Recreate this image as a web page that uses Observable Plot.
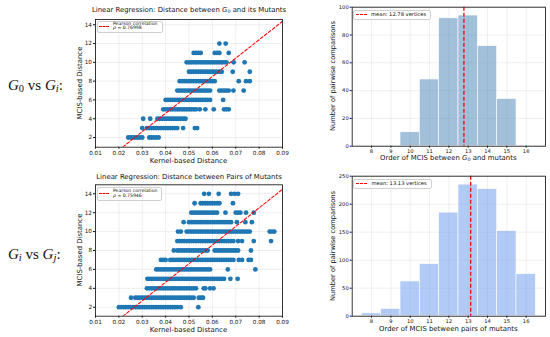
<!DOCTYPE html>
<html><head><meta charset="utf-8">
<script src="https://cdn.jsdelivr.net/npm/d3@7"></script>
<script src="https://cdn.jsdelivr.net/npm/@observablehq/plot@0.6"></script>
<style>
body{margin:0;background:#fff;}
#c{position:relative;width:550px;height:337px;overflow:hidden;font-family:"DejaVu Sans",sans-serif;color:#111;background:#fff;}
#c svg{position:absolute;overflow:visible;}
.t{position:absolute;white-space:nowrap;line-height:1;}
.t sub{font-size:70%;vertical-align:-0.25em;line-height:0;}
.row{font-family:"Liberation Serif","DejaVu Serif",serif;font-size:15px;}
.lg{position:absolute;border:0.6px solid #d0d0d0;border-radius:2px;background:rgba(255,255,255,0.85);box-sizing:border-box;}
.dash{position:absolute;height:0;border-top:1.3px dashed red;}
</style></head><body><div id="c"></div>
<script>
// ---------- data ----------
// scatter G0 vs Gi : MCIS-based distance levels and kernel-based distances at each level
const g0Levels = [2,3,4,5,6,7,8,9,10,11,12];
const g0Kernel = [
 [0.024,0.025,0.026,0.027,0.028,0.029,0.030,0.033,0.034,0.035,0.036,0.037],
 [0.030,0.032,0.033,0.034,0.035,0.036,0.037,0.038,0.039,0.040,0.041,0.042,0.043,0.044,0.045,0.0475,0.0525,0.0535],
 [0.0304,0.0334,0.0365,0.0375,0.0385,0.0395,0.0405,0.0415,0.0425,0.0435,0.0445,0.0455,0.0465,0.0475,0.0485],
 [0.039,0.040,0.041,0.042,0.043,0.044,0.045,0.046,0.047,0.048,0.049,0.050,0.051,0.052,0.053,0.0546,0.057,0.0606,0.065,0.066,0.067],
 [0.040,0.041,0.042,0.043,0.044,0.045,0.046,0.047,0.048,0.049,0.050,0.051,0.052,0.053,0.054,0.055,0.056,0.057,0.058,0.059,0.0646],
 [0.045,0.046,0.047,0.048,0.049,0.050,0.051,0.052,0.053,0.054,0.055,0.056,0.057,0.058,0.059,0.063,0.064,0.065,0.066,0.067,0.069,0.0734],
 [0.046,0.047,0.048,0.049,0.050,0.051,0.052,0.053,0.054,0.055,0.056,0.057,0.058,0.059,0.060,0.061,0.0713,0.0744,0.076],
 [0.050,0.051,0.052,0.053,0.054,0.055,0.056,0.057,0.058,0.059,0.060,0.061,0.062,0.063,0.064,0.0687,0.076],
 [0.049,0.050,0.051,0.052,0.053,0.054,0.055,0.056,0.057,0.058,0.059,0.060,0.061,0.062,0.063,0.064,0.065,0.066,0.0691,0.0738],
 [0.052,0.053,0.054,0.055,0.061,0.062,0.063,0.067],
 [0.063,0.0657]
];
// scatter Gi vs Gj
const pairLevels = [2,3,4,5,6,7,8,9,10,11,12,13,14];
const pairKernel = [
 [0.020,0.021,0.022,0.023,0.024,0.025,0.026,0.027,0.028,0.029,0.030,0.031,0.032,0.033,0.034,0.035,0.036,0.037,0.038,0.039,0.040,0.041,0.042,0.043,0.044,0.045,0.0465,0.054],
 [0.0252,0.027,0.028,0.029,0.030,0.031,0.032,0.033,0.034,0.035,0.036,0.037,0.038,0.039,0.040,0.041,0.042,0.043,0.044,0.045,0.046,0.047,0.048,0.049,0.050,0.051,0.052,0.0542,0.0552,0.056],
 [0.032,0.033,0.034,0.035,0.036,0.037,0.038,0.039,0.040,0.041,0.042,0.043,0.044,0.045,0.046,0.047,0.048,0.049,0.050,0.051,0.052,0.053,0.0563,0.057,0.059,0.0605],
 [0.0322,0.033,0.034,0.035,0.036,0.037,0.038,0.039,0.040,0.041,0.042,0.043,0.044,0.045,0.046,0.047,0.048,0.049,0.050,0.051,0.052,0.053,0.054,0.055,0.056,0.057,0.058,0.059,0.060,0.061,0.062,0.063,0.064,0.065,0.0677,0.0708],
 [0.036,0.037,0.038,0.039,0.040,0.041,0.042,0.043,0.044,0.045,0.046,0.047,0.048,0.049,0.050,0.051,0.052,0.053,0.054,0.055,0.056,0.057,0.058,0.059,0.0666,0.0784],
 [0.038,0.039,0.040,0.042,0.043,0.044,0.045,0.046,0.047,0.048,0.049,0.050,0.051,0.052,0.053,0.054,0.055,0.056,0.057,0.058,0.059,0.060,0.061,0.062,0.063,0.064,0.065,0.066,0.067,0.068,0.069,0.0713,0.0727,0.0755,0.0765],
 [0.0435,0.045,0.046,0.047,0.048,0.049,0.050,0.051,0.052,0.053,0.054,0.055,0.056,0.057,0.058,0.061,0.062,0.063,0.064,0.065,0.066,0.067,0.068,0.069,0.070,0.071,0.0765],
 [0.045,0.046,0.047,0.048,0.049,0.050,0.051,0.052,0.053,0.054,0.055,0.056,0.057,0.058,0.059,0.060,0.061,0.062,0.063,0.064,0.065,0.066,0.067,0.068,0.069,0.071,0.0727,0.0777,0.0851],
 [0.0453,0.0465,0.049,0.050,0.051,0.052,0.053,0.054,0.055,0.056,0.057,0.058,0.059,0.060,0.061,0.062,0.063,0.064,0.065,0.066,0.067,0.068,0.069,0.070,0.071,0.072,0.073,0.074,0.075,0.076,0.0845,0.0855,0.0865],
 [0.0477,0.050,0.051,0.052,0.053,0.054,0.055,0.056,0.057,0.058,0.059,0.060,0.061,0.062,0.063,0.064,0.065,0.066,0.067,0.068,0.0705,0.0741,0.0769],
 [0.051,0.052,0.053,0.054,0.055,0.056,0.057,0.058,0.059,0.060,0.061,0.062,0.0656,0.070,0.071,0.072,0.0744,0.0777],
 [0.0524,0.055,0.056,0.057,0.058,0.059,0.060,0.061,0.062,0.063,0.0688],
 [0.0565,0.0585,0.0627,0.068,0.0695,0.071]
];
// regression fits (slope, intercept) and Pearson correlations
const g0Slope = 195.7, g0Intercept = -3.25, g0Pearson = "0.76998";
const pairSlope = 196.6, pairIntercept = -3.22, pairPearson = "0.75946";
// histograms
const g0Orders = [10,11,12,13,14,15];
const g0Counts = [10,48,92,94,72,34];
const g0Mean = 12.78;
const pairOrders = [8,9,10,11,12,13,14,15,16];
const pairCounts = [5,13,62,93,185,235,227,152,75];
const pairMean = 13.13;
// axis ticks
const kernelTicks = [0.01,0.02,0.03,0.04,0.05,0.06,0.07,0.08,0.09];
const mcisTicks = [2,4,6,8,10,12,14];
const orderTicks = [8,9,10,11,12,13,14,15,16];
const g0CountTicks = [0,20,40,60,80,100];
const pairCountTicks = [0,50,100,150,200,250];

// ---------- drawing ----------
const C = document.getElementById("c");
const FONT = "DejaVu Sans";
const gridStyle = {stroke:"#c8c8c8", strokeOpacity:0.6, strokeWidth:0.5};

function place(svg, left, top){ svg.style.left = left+"px"; svg.style.top = top+"px"; C.appendChild(svg); }

function scatter(levels, kernel, slope, intercept, yDomain, left, top, w, h, m){
  const pts = levels.flatMap((lv,i)=>kernel[i].map(x=>({x, y:lv})));
  const xd = [0.01,0.09];
  const reg = xd.map(x=>({x, y: slope*x+intercept}));
  const svg = Plot.plot({
    width:w, height:h, marginLeft:m[0], marginRight:m[1], marginTop:m[2], marginBottom:m[3],
    style:{fontFamily:FONT, fontSize:"5.7px", color:"#111", background:"transparent"},
    x:{domain:xd}, y:{domain:yDomain},
    marks:[
      Plot.gridX(kernelTicks, gridStyle),
      Plot.gridY(mcisTicks, gridStyle),
      Plot.dot(pts, {x:"x", y:"y", r:2.4, fill:"#1f77b4", stroke:null}),
      Plot.line(reg, {x:"x", y:"y", stroke:"red", strokeWidth:1.05, strokeDasharray:"3,2", clip:true}),
      Plot.axisX({ticks:kernelTicks, tickFormat:d=>d.toFixed(2), tickSize:2, tickPadding:1.5, label:null, fontSize:5.7}),
      Plot.axisY({ticks:mcisTicks, tickFormat:d=>String(d), tickSize:2, tickPadding:1.5, label:null, fontSize:5.7}),
      Plot.frame({stroke:"#222", strokeWidth:0.9})
    ]
  });
  place(svg, left, top);
}

function hist(orders, counts, mean, color, yTicks, left, top, w, h, m){
  const bars = orders.map((o,i)=>({o, c:counts[i]}));
  const svg = Plot.plot({
    width:w, height:h, marginLeft:m[0], marginRight:m[1], marginTop:m[2], marginBottom:m[3],
    style:{fontFamily:FONT, fontSize:"5.2px", color:"#111", background:"transparent"},
    x:{domain:[7,17]}, y:{domain:[yTicks[0], yTicks[yTicks.length-1]]},
    marks:[
      Plot.gridX(orderTicks, gridStyle),
      Plot.gridY(yTicks, gridStyle),
      Plot.rectY(bars, {x1:d=>d.o-0.5, x2:d=>d.o+0.5, y1:0, y2:"c", fill:color, fillOpacity:0.5, stroke:"white", strokeWidth:0.6}),
      Plot.ruleX([mean], {stroke:"red", strokeWidth:1.3, strokeDasharray:"4,2"}),
      Plot.axisX({ticks:orderTicks, tickFormat:d=>String(d), tickSize:2, tickPadding:1.5, label:null, fontSize:5.2}),
      Plot.axisY({ticks:yTicks, tickFormat:d=>String(d), tickSize:2, tickPadding:1.5, label:null, fontSize:5.2}),
      Plot.frame({stroke:"#222", strokeWidth:0.9})
    ]
  });
  place(svg, left, top);
}

// top-left scatter: frame x 95..282, y 19..146.7
scatter(g0Levels, g0Kernel, g0Slope, g0Intercept, [0.97,14.56], 60, 0, 230, 170, [35,8,19,23.3]);
// bottom-left scatter: frame y 184.3..315.7
scatter(pairLevels, pairKernel, pairSlope, pairIntercept, [1.05,14.95], 60, 170, 230, 167, [35,8,14.3,21.3]);
// top-right histogram: frame x 351.7..545, y 6.7..145.7
hist(g0Orders, g0Counts, g0Mean, "#4682b4", g0CountTicks, 320, 0, 230, 170, [31.7,5,6.7,24.3]);
// bottom-right histogram: frame y 175.7..315.7
hist(pairOrders, pairCounts, pairMean, "#6495ed", pairCountTicks, 320, 170, 230, 167, [31.7,5,5.7,21.3]);

// ---------- texts ----------
function txt(html, x, y, size, opts={}){
  const d = document.createElement("div");
  d.className = "t" + (opts.cls ? " "+opts.cls : "");
  d.innerHTML = html;
  d.style.fontSize = size+"px";
  d.style.left = x+"px"; d.style.top = y+"px";
  const ax = opts.anchor === "start" ? "0" : "-50%";
  d.style.transform = `translate(${ax},-50%)`;
  if (opts.rot){
    d.style.transformOrigin = "center";
    d.style.transform = "translate(-50%,-50%) rotate(-90deg)";
  }
  C.appendChild(d);
  return d;
}
function legend(x, y, w, h, lines, fs, dashX, dashW){
  const b = document.createElement("div");
  b.className = "lg";
  b.style.left = x+"px"; b.style.top = y+"px"; b.style.width = w+"px"; b.style.height = h+"px";
  C.appendChild(b);
  const dl = document.createElement("div");
  dl.className = "dash";
  dl.style.left = dashX+"px"; dl.style.width = dashW+"px"; dl.style.top = (y + h/2 - 0.6)+"px";
  C.appendChild(dl);
  lines.forEach(l=>txt(l.html, l.x, l.y, fs, {anchor:"start"}));
}

const G0 = "<i>G</i><sub>0</sub>";
// titles
txt(`Linear Regression: Distance between ${G0} and its Mutants`, 189, 9.5, 6.9);
txt(`Linear Regression: Distance between Pairs of Mutants`, 189, 177.3, 6.9);
// scatter axis labels
txt("Kernel-based Distance", 188.5, 161, 6.9);
txt("Kernel-based Distance", 188.5, 330, 6.9);
txt("MCIS-based Distance", 79.5, 83, 6.9, {rot:true});
txt("MCIS-based Distance", 79.5, 250, 6.9, {rot:true});
// histogram axis labels
txt(`Order of MCIS between ${G0} and mutants`, 448.3, 158.3, 6.9);
txt(`Order of MCIS between pairs of mutants`, 448.3, 329.3, 6.9);
txt("Number of pairwise comparisons", 333.3, 76.2, 6.7, {rot:true});
txt("Number of pairwise comparisons", 333.3, 245.7, 6.7, {rot:true});
// row labels
txt(`<i>G</i><sub>0</sub> vs <i>G<sub>i</sub></i>:`, 8, 85, 15, {anchor:"start", cls:"row"});
txt(`<i>G<sub>i</sub></i> vs <i>G<sub>j</sub></i>:`, 8, 254, 15, {anchor:"start", cls:"row"});
// legends
legend(97, 20.5, 65.5, 12.5, [
  {html:"Pearson correlation", x:113, y:23.5},
  {html:`<i>ρ</i> = ${g0Pearson}`, x:113, y:28.3}
], 4.6, 99, 10);
legend(97, 187, 65, 13.5, [
  {html:"Pearson correlation", x:113, y:190.5},
  {html:`<i>ρ</i> = ${pairPearson}`, x:113, y:195.5}
], 4.6, 99, 10);
legend(353.3, 9.5, 77.5, 10, [
  {html:`mean: ${g0Mean.toFixed(2)} vertices`, x:371, y:14.5}
], 5.2, 356, 11);
legend(353.3, 179, 78.5, 10, [
  {html:`mean: ${pairMean.toFixed(2)} vertices`, x:371.5, y:184}
], 5.2, 356, 11);
</script></body></html>
